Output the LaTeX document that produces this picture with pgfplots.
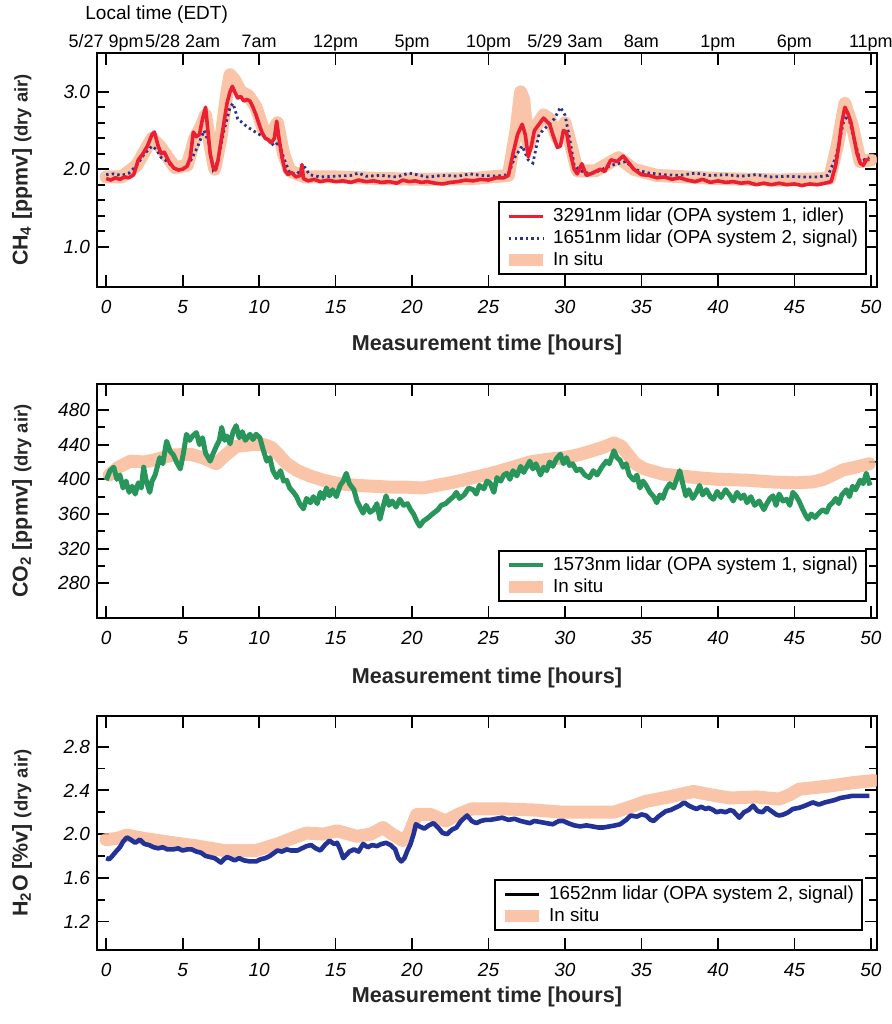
\documentclass[border=0pt]{standalone}
\usepackage{fontspec}
\setmainfont{Liberation Sans}
\usepackage{pgfplots}
\pgfplotsset{compat=1.18}
\definecolor{insitu}{RGB}{248,186,152}
\definecolor{ch4red}{RGB}{236,30,50}
\definecolor{ch4blue}{RGB}{40,50,140}
\definecolor{co2green}{RGB}{40,150,90}
\definecolor{h2oblue}{RGB}{35,50,150}
\pgfplotsset{
  panel/.style={
    scale only axis, width=390pt, height=117pt,
    anchor=north west,
    xmin=-0.6, xmax=50.4,
    xtick={0,5,...,50},
    tick align=inside,
    major tick length=6pt, minor tick length=4pt,
    tick style={black, line width=0.9pt},
    axis line style={line width=1pt},
    /pgf/number format/assume math mode=true,
    xticklabel style={font=\fontsize{9.5}{11}\selectfont\itshape, yshift=-3pt},
    yticklabel style={font=\fontsize{9.5}{11}\selectfont\itshape},
    xlabel={Measurement time [hours]},
    xlabel style={font=\bfseries\fontsize{10.8}{12}\selectfont, text=black!85, anchor=center},
    ylabel style={anchor=center, at={(axis description cs:-0.096,0.5)}, text=black!85},
    legend cell align=left,
    legend style={draw=black, line width=1pt, font=\fontsize{9.4}{11}\selectfont,
      anchor=south east, inner xsep=2pt, inner ysep=1pt, row sep=-1.5pt},
  },
  band/.style={insitu, line width=6.5pt, opacity=0.85, line join=round, line cap=round},
}
\begin{document}
\begin{tikzpicture}
\path[use as bounding box] (0,0) rectangle (445.5pt,-512pt);
\node[anchor=west, inner sep=0, font=\fontsize{9.5}{11}\selectfont] at (42.5pt,-7.5pt) {Local time (EDT)};
% ---------------- CH4 panel ----------------
\begin{axis}[panel, at={(48.5pt,-26.5pt)},
  ymin=0.48, ymax=3.5, ytick={1,2,3}, minor y tick num=4,
  yticklabel style={/pgf/number format/.cd, fixed, fixed zerofill, precision=1},
  xlabel style={at={(axis description cs:0.5,-0.248)}},
  ylabel={\bfseries\fontsize{10.7}{12}\selectfont CH\textsubscript{4} [ppmv] {\fontsize{9.2}{11}\selectfont (dry air)}},
  legend style={at={(rel axis cs:0.987,0.051)}}]
\addplot[band, forget plot] coordinates {
(0,1.9)(1,1.9)(2,2.05)(3,2.4)(3.5,2.3)(4.5,2.02)(5.3,2.05)(5.8,2.4)(6.2,2.55)(6.5,2.7)(6.8,2.3)(7.1,2.0)(7.5,2.4)(7.9,3.0)(8.1,3.22)(8.4,3.15)(8.8,3.0)(9.3,2.95)(9.8,2.8)(10.3,2.5)(10.8,2.45)(11.2,2.6)(11.6,2.2)(12,1.98)(13,1.9)(15,1.9)(18,1.88)(21,1.87)(24,1.88)(26.3,1.92)(26.8,2.5)(27.1,3.0)(27.3,2.9)(27.6,2.3)(28.1,2.55)(28.6,2.7)(29.0,2.65)(29.5,2.4)(30,2.6)(30.4,2.3)(30.8,1.98)(32,1.98)(33.5,2.15)(34.5,2.0)(36,1.92)(40,1.88)(44,1.86)(47.3,1.88)(47.8,2.3)(48.3,2.85)(48.8,2.55)(49.3,2.1)(50,2.12)};
\addplot[ch4blue, line width=1.4pt, dash pattern=on 1.2pt off 1.6pt, forget plot] coordinates {
(0,1.93)(0.5,1.94)(1,1.92)(1.5,1.95)(2,2.05)(2.5,2.2)(3,2.3)(3.3,2.25)(3.6,2.15)(4,2.1)(4.5,2.0)(5,1.99)(5.5,2.1)(6,2.3)(6.4,2.5)(6.7,2.35)(7.0,2.0)(7.3,2.1)(7.7,2.5)(8.1,2.8)(8.3,2.85)(8.6,2.65)(8.9,2.6)(9.2,2.55)(9.6,2.5)(10,2.45)(10.5,2.4)(11,2.3)(11.3,2.35)(11.6,2.15)(12,1.95)(12.5,1.94)(12.9,2.05)(13.3,1.93)(14,1.9)(15,1.91)(16,1.92)(16.5,1.95)(17,1.91)(18,1.92)(19,1.9)(19.8,1.95)(20.3,1.93)(21,1.9)(22,1.92)(23,1.91)(23.8,1.94)(24.5,1.92)(25.5,1.91)(26.3,1.93)(26.7,2.15)(27.2,2.3)(27.6,2.12)(27.9,2.08)(28.3,2.45)(28.8,2.55)(29.3,2.65)(29.7,2.8)(30.0,2.7)(30.3,2.4)(30.6,2.05)(31,1.98)(31.5,1.95)(32,1.96)(33,2.05)(34,2.1)(34.5,2.0)(35.5,1.95)(36.5,1.93)(37.5,1.92)(38.5,1.95)(39.5,1.92)(40.5,1.93)(41.5,1.91)(42.5,1.93)(43.5,1.9)(44.5,1.91)(45.5,1.9)(46.5,1.9)(47.2,1.92)(47.7,2.15)(48.2,2.6)(48.5,2.7)(48.9,2.4)(49.3,2.1)(49.9,2.15)};
\addplot[ch4red, line width=1.8pt, line join=round, forget plot] coordinates {
(0,1.88)(0.3,1.86)(0.6,1.89)(0.9,1.87)(1.2,1.9)(1.5,1.89)(1.8,1.93)(2.1,2.12)(2.4,2.2)(2.7,2.3)(3.0,2.45)(3.15,2.48)(3.4,2.3)(3.6,2.2)(3.8,2.22)(4.1,2.1)(4.4,2.02)(4.7,1.99)(5.0,2.0)(5.3,2.04)(5.5,2.15)(5.7,2.48)(5.9,2.42)(6.1,2.45)(6.3,2.65)(6.5,2.8)(6.65,2.5)(6.8,2.2)(7.0,2.02)(7.15,1.99)(7.3,2.1)(7.5,2.35)(7.7,2.6)(7.9,2.85)(8.1,3.0)(8.25,3.07)(8.4,3.0)(8.6,2.92)(8.8,2.94)(9.0,2.88)(9.2,2.9)(9.4,2.88)(9.6,2.8)(9.8,2.7)(10.0,2.58)(10.2,2.47)(10.4,2.4)(10.6,2.38)(10.8,2.34)(11.0,2.4)(11.15,2.62)(11.3,2.4)(11.5,2.15)(11.7,1.98)(11.9,1.93)(12.1,1.96)(12.4,1.9)(12.7,1.92)(12.8,2.06)(12.9,1.88)(13.2,1.85)(13.6,1.87)(14.0,1.84)(14.5,1.86)(15.0,1.84)(15.5,1.85)(16.0,1.83)(16.5,1.86)(17.0,1.84)(17.5,1.85)(18.0,1.83)(18.5,1.84)(19.0,1.82)(19.4,1.86)(19.8,1.84)(20.2,1.85)(20.6,1.83)(21.0,1.84)(21.5,1.82)(22.0,1.81)(22.5,1.83)(23.0,1.84)(23.5,1.86)(24.0,1.85)(24.5,1.87)(25.0,1.86)(25.5,1.89)(26.0,1.89)(26.3,1.92)(26.6,2.2)(26.9,2.45)(27.2,2.58)(27.4,2.45)(27.6,2.16)(27.8,2.3)(28.0,2.5)(28.3,2.58)(28.6,2.66)(28.8,2.62)(29.0,2.58)(29.2,2.45)(29.5,2.28)(29.7,2.3)(29.9,2.5)(30.1,2.48)(30.3,2.25)(30.6,2.0)(30.8,1.94)(31.1,2.07)(31.4,1.92)(31.8,1.95)(32.3,2.0)(32.6,1.97)(33.0,2.12)(33.4,2.1)(33.8,2.17)(34.1,2.1)(34.5,2.0)(35.0,1.93)(35.5,1.92)(36.0,1.89)(36.5,1.9)(37.0,1.87)(37.5,1.89)(38.0,1.86)(38.5,1.84)(39.0,1.87)(39.5,1.83)(40.0,1.85)(40.5,1.83)(41.0,1.84)(41.5,1.82)(42.0,1.83)(42.5,1.8)(43.0,1.82)(43.5,1.8)(44.0,1.82)(44.5,1.8)(45.0,1.81)(45.5,1.79)(46.0,1.81)(46.5,1.8)(47.0,1.82)(47.4,1.84)(47.7,2.05)(47.9,2.3)(48.1,2.6)(48.3,2.8)(48.5,2.72)(48.7,2.6)(48.9,2.4)(49.1,2.2)(49.3,2.08)(49.5,2.05)(49.7,2.12)(49.9,2.13)};
\addlegendimage{ch4red, line width=1.8pt}
\addlegendentry{3291nm lidar (OPA system 1, idler)}
\addlegendimage{ch4blue, line width=1.4pt, dash pattern=on 1.2pt off 1.6pt}
\addlegendentry{1651nm lidar (OPA system 2, signal)}
\addlegendimage{insitu, line width=6pt, opacity=0.85}
\addlegendentry{In situ}
\end{axis}
% top time axis
\begin{axis}[scale only axis, width=390pt, height=117pt, anchor=north west, at={(48.5pt,-26.5pt)},
  xmin=-0.6, xmax=50.4, ymin=0, ymax=1, hide y axis,
  axis line style={draw=none}, major tick length=0pt,
  xtick={0,5,...,50}, xtick pos=upper, xticklabel pos=upper,
  xticklabels={{5/27 9pm},{5/28 2am},{7am},{12pm},{5pm},{10pm},{5/29 3am},{8am},{1pm},{6pm},{11pm}},
  xticklabel style={font=\fontsize{9}{11}\selectfont, anchor=base, inner sep=0pt, yshift=3pt}]
\addplot[draw=none] coordinates {(0,0.5)};
\end{axis}
% ---------------- CO2 panel ----------------
\begin{axis}[panel, at={(48.5pt,-192pt)},
  ymin=240, ymax=510, ytick={280,320,...,480}, minor y tick num=1,
  xlabel style={at={(axis description cs:0.5,-0.256)}},
  ylabel={\bfseries\fontsize{10.7}{12}\selectfont CO\textsubscript{2} [ppmv] {\fontsize{9.2}{11}\selectfont (dry air)}},
  legend style={at={(rel axis cs:0.987,0.068)}}]
\addplot[band, forget plot] coordinates {
(0.2,405)(0.8,414)(1.6,421)(2.5,420)(3.3,423)(4.3,428)(5.5,429)(6.3,425)(7.2,418)(7.8,428)(8.5,438)(9.5,440)(10.3,440)(10.8,437)(11.3,428)(11.8,418)(12.5,410)(13.3,404)(14.2,399)(15.2,395)(16.4,393)(17.5,392)(18.6,391)(19.6,391)(20.7,390)(21.6,393)(22.5,396)(23.3,399)(24,402)(25,406)(26.2,412)(27.7,420)(28.8,423)(29.9,425)(30.8,428)(31.6,432)(32.5,437)(33.2,442)(33.7,438)(34.1,429)(34.6,418)(35.2,412)(36.4,406)(37.5,404)(38.6,402)(40,400)(41.9,399)(43.5,397)(45.1,396)(46.2,397)(46.9,400)(47.5,405)(48.2,411)(49.0,414)(49.9,418)};
\addplot[co2green, line width=2.5pt, line join=round, forget plot] coordinates {
(0,399)(0.25,410)(0.5,414)(0.7,400)(0.9,405)(1.1,390)(1.3,398)(1.5,385)(1.7,392)(1.9,383)(2.1,396)(2.3,390)(2.45,414)(2.6,400)(2.85,385)(3.0,398)(3.2,405)(3.5,425)(3.7,418)(3.95,444)(4.2,432)(4.4,428)(4.6,420)(4.85,412)(5.05,430)(5.25,452)(5.45,445)(5.65,450)(5.9,454)(6.1,440)(6.3,448)(6.5,430)(6.8,421)(7.0,430)(7.2,438)(7.4,445)(7.55,460)(7.75,445)(7.9,450)(8.1,441)(8.3,455)(8.5,462)(8.7,448)(8.9,455)(9.1,445)(9.4,452)(9.6,446)(9.8,452)(10.05,448)(10.25,435)(10.5,421)(10.7,425)(10.9,410)(11.15,402)(11.4,410)(11.6,398)(11.8,399)(12.0,390)(12.25,385)(12.45,380)(12.65,372)(12.9,366)(13.1,378)(13.35,373)(13.55,380)(13.8,372)(14.0,385)(14.2,378)(14.4,390)(14.6,381)(14.8,388)(15.05,380)(15.3,393)(15.5,398)(15.7,407)(15.9,395)(16.2,388)(16.4,375)(16.6,368)(16.8,361)(17.0,370)(17.25,362)(17.5,365)(17.7,372)(17.9,354)(18.1,368)(18.3,381)(18.5,370)(18.7,375)(18.95,368)(19.2,377)(19.45,370)(19.7,372)(19.9,365)(20.1,360)(20.3,352)(20.5,346)(20.75,352)(21.0,355)(21.2,358)(21.4,361)(21.7,365)(21.9,370)(22.2,372)(22.5,377)(22.7,380)(22.9,385)(23.1,378)(23.4,382)(23.7,390)(24.0,388)(24.2,383)(24.4,393)(24.7,389)(24.9,398)(25.1,396)(25.35,385)(25.55,402)(25.8,398)(26.0,405)(26.2,407)(26.4,400)(26.6,410)(26.85,404)(27.1,415)(27.3,408)(27.7,421)(27.9,412)(28.1,418)(28.4,405)(28.6,414)(28.8,410)(29.0,420)(29.2,415)(29.45,424)(29.7,429)(29.9,418)(30.1,425)(30.3,416)(30.5,418)(30.75,410)(31.0,412)(31.3,405)(31.6,402)(31.85,410)(32.1,405)(32.4,414)(32.7,421)(32.9,418)(33.2,433)(33.4,425)(33.6,422)(33.8,414)(34.0,418)(34.2,405)(34.5,399)(34.7,405)(34.9,390)(35.1,398)(35.3,393)(35.55,385)(35.8,380)(36.0,373)(36.2,382)(36.4,378)(36.6,388)(36.85,395)(37.1,390)(37.3,400)(37.5,410)(37.7,395)(37.9,381)(38.1,388)(38.35,378)(38.6,385)(38.8,393)(39.0,382)(39.25,388)(39.5,380)(39.7,377)(39.95,386)(40.2,379)(40.5,388)(40.8,381)(41.0,375)(41.25,385)(41.5,378)(41.7,382)(41.9,373)(42.15,380)(42.4,370)(42.7,375)(43.0,365)(43.2,372)(43.4,378)(43.6,381)(43.8,370)(44.0,383)(44.25,375)(44.5,377)(44.7,370)(44.9,385)(45.1,381)(45.3,375)(45.55,365)(45.75,358)(45.9,354)(46.1,360)(46.35,356)(46.6,361)(46.85,365)(47.1,362)(47.3,370)(47.5,373)(47.7,378)(47.9,372)(48.1,382)(48.4,388)(48.6,380)(48.8,392)(49.0,388)(49.3,399)(49.5,395)(49.7,407)(49.85,398)(49.95,393)};
\addlegendimage{co2green, line width=2pt}
\addlegendentry{1573nm lidar (OPA system 1, signal)}
\addlegendimage{insitu, line width=6pt, opacity=0.85}
\addlegendentry{In situ}
\end{axis}
% ---------------- H2O panel ----------------
\begin{axis}[panel, at={(48.5pt,-358pt)},
  ymin=0.94, ymax=3.08, ytick={1.2,1.6,...,2.8}, minor y tick num=1,
  yticklabel style={/pgf/number format/.cd, fixed, fixed zerofill, precision=1},
  xlabel style={at={(axis description cs:0.5,-0.2)}},
  ylabel={\bfseries\fontsize{10.7}{12}\selectfont H\textsubscript{2}O [\%v] {\fontsize{9.2}{11}\selectfont (dry air)}},
  legend style={at={(rel axis cs:0.982,0.081)}}]
\addplot[band, forget plot] coordinates {
(0,1.95)(0.7,1.96)(1.35,1.99)(2.5,1.96)(4.4,1.92)(6,1.89)(7.7,1.85)(9.8,1.85)(11.2,1.91)(12.3,1.97)(13.1,2.01)(14.2,2.0)(15.1,2.03)(16.4,1.98)(17.3,2.0)(18.1,2.06)(18.7,2.0)(19.4,1.94)(19.8,2.0)(20.3,2.18)(21.2,2.18)(22.2,2.12)(23.0,2.18)(23.9,2.23)(26.2,2.23)(28,2.22)(29.9,2.2)(33.2,2.2)(34.3,2.25)(35.3,2.3)(36.8,2.34)(38.4,2.39)(39.5,2.36)(40.8,2.33)(42.5,2.34)(44.0,2.32)(44.7,2.36)(45.3,2.41)(47.3,2.44)(48.8,2.47)(50.2,2.49)};
\addplot[h2oblue, line width=2.3pt, line join=round, forget plot] coordinates {
(0,1.78)(0.2,1.77)(0.4,1.8)(0.7,1.85)(0.9,1.88)(1.1,1.93)(1.35,1.97)(1.6,1.95)(1.9,1.92)(2.2,1.95)(2.5,1.91)(2.8,1.9)(3.1,1.88)(3.4,1.87)(3.7,1.88)(4.0,1.86)(4.4,1.86)(4.7,1.87)(5.0,1.85)(5.3,1.86)(5.6,1.86)(5.9,1.84)(6.2,1.83)(6.5,1.80)(6.8,1.79)(7.1,1.78)(7.3,1.76)(7.5,1.74)(7.7,1.77)(7.9,1.79)(8.1,1.78)(8.4,1.76)(8.7,1.78)(9.0,1.76)(9.4,1.75)(9.8,1.75)(10.1,1.77)(10.4,1.78)(10.7,1.80)(11.0,1.83)(11.2,1.85)(11.5,1.84)(11.8,1.86)(12.1,1.85)(12.5,1.85)(12.8,1.87)(13.1,1.89)(13.4,1.9)(13.7,1.87)(14.0,1.85)(14.3,1.9)(14.6,1.94)(14.9,1.91)(15.1,1.92)(15.3,1.86)(15.5,1.78)(15.7,1.81)(15.9,1.84)(16.2,1.86)(16.5,1.84)(16.8,1.91)(17.1,1.88)(17.4,1.9)(17.7,1.89)(18.0,1.91)(18.3,1.92)(18.6,1.9)(18.9,1.86)(19.1,1.78)(19.3,1.75)(19.5,1.78)(19.7,1.85)(19.9,1.91)(20.1,2.0)(20.25,2.09)(20.5,2.07)(20.8,2.05)(21.1,2.08)(21.4,2.1)(21.7,2.06)(22.0,2.01)(22.3,2.0)(22.6,2.04)(22.9,2.06)(23.2,2.12)(23.6,2.17)(23.9,2.12)(24.2,2.1)(24.5,2.12)(24.8,2.13)(25.1,2.13)(25.5,2.14)(25.9,2.15)(26.3,2.13)(26.7,2.14)(27.1,2.12)(27.4,2.11)(27.7,2.1)(28.0,2.12)(28.4,2.11)(28.8,2.1)(29.2,2.09)(29.6,2.12)(29.9,2.12)(30.2,2.1)(30.6,2.08)(31.0,2.07)(31.4,2.08)(31.8,2.07)(32.2,2.06)(32.5,2.06)(32.9,2.07)(33.3,2.08)(33.6,2.09)(34.0,2.13)(34.3,2.17)(34.7,2.16)(35.0,2.18)(35.3,2.17)(35.6,2.13)(35.8,2.12)(36.1,2.16)(36.4,2.19)(36.6,2.21)(36.9,2.22)(37.2,2.24)(37.5,2.26)(37.8,2.29)(38.1,2.26)(38.4,2.24)(38.6,2.23)(38.9,2.25)(39.2,2.23)(39.4,2.24)(39.7,2.22)(39.9,2.2)(40.2,2.21)(40.5,2.2)(40.8,2.22)(41.0,2.21)(41.2,2.18)(41.4,2.15)(41.7,2.2)(42.0,2.22)(42.3,2.26)(42.6,2.21)(42.9,2.2)(43.2,2.24)(43.5,2.21)(43.8,2.18)(44.0,2.17)(44.3,2.18)(44.6,2.2)(44.9,2.23)(45.3,2.24)(45.7,2.26)(46.2,2.29)(46.6,2.27)(47.0,2.29)(47.3,2.3)(47.6,2.31)(48.0,2.33)(48.4,2.34)(48.8,2.35)(49.2,2.35)(49.6,2.35)(49.9,2.35)};
\addlegendimage{black, line width=1.6pt}
\addlegendentry{1652nm lidar (OPA system 2, signal)}
\addlegendimage{insitu, line width=6pt, opacity=0.85}
\addlegendentry{In situ}
\end{axis}
\end{tikzpicture}
\end{document}
